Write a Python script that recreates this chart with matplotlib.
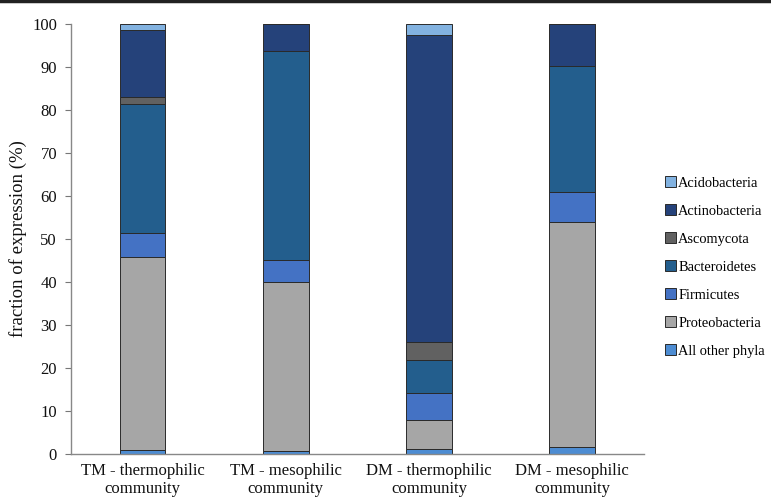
import matplotlib
matplotlib.use("Agg")
import matplotlib.pyplot as plt
import numpy as np

# stacked from the bottom up
categories = ["TM - thermophilic\ncommunity", "TM - mesophilic\ncommunity",
              "DM - thermophilic\ncommunity", "DM - mesophilic\ncommunity"]
phyla = ["All other phyla", "Proteobacteria", "Firmicutes", "Bacteroidetes",
         "Ascomycota", "Actinobacteria", "Acidobacteria"]
other_phyla = [0.9, 0.8, 1.1, 1.7]
proteobacteria = [44.8, 39.3, 6.8, 52.3]
firmicutes = [5.6, 5.0, 6.2, 6.8]
bacteroidetes = [30.0, 48.7, 7.8, 29.4]
ascomycota = [1.6, 0.0, 4.2, 0.0]
actinobacteria = [15.6, 6.2, 71.4, 9.8]
acidobacteria = [1.5, 0.0, 2.5, 0.0]

series = [other_phyla, proteobacteria, firmicutes, bacteroidetes,
          ascomycota, actinobacteria, acidobacteria]
colours = ["#4D8CD2", "#A6A6A6", "#4472C4", "#235E8D",
           "#616161", "#25427A", "#82B2E0"]

serif = "Liberation Serif"

fig = plt.figure(figsize=(7.71, 4.99), dpi=100)
ax = fig.add_axes([0.092, 0.0902, 0.743, 0.862])

x = np.arange(len(categories))
bottom = np.zeros(len(categories))
handles = []
for vals, name, col in zip(series, phyla, colours):
    vals = np.array(vals)
    b = ax.bar(x, vals, width=0.32, bottom=bottom, color=col,
               edgecolor="#2a2a2a", linewidth=0.7, label=name)
    handles.append(b)
    bottom += vals

ax.set_xlim(-0.5, len(categories) - 0.5)
ax.set_ylim(0, 100)
ax.set_yticks(range(0, 101, 10))
ax.set_xticks(x)
ax.set_xticklabels(categories, fontfamily=serif, fontsize=12,
                   color="#111111", linespacing=1.15)
ax.tick_params(axis="x", length=0, pad=6.5)
ax.tick_params(axis="y", length=4, width=0.8, color="#777777", pad=6)
for lab in ax.get_yticklabels():
    lab.set_fontfamily(serif)
    lab.set_fontsize(12)
    lab.set_color("#111111")
ax.set_ylabel("fraction of expression (%)", fontfamily=serif,
              fontsize=13.5, color="#111111", labelpad=4)

for side in ["top", "right"]:
    ax.spines[side].set_visible(False)
for side in ["left", "bottom"]:
    ax.spines[side].set_color("#888888")
    ax.spines[side].set_linewidth(1.0)

leg = fig.legend(handles[::-1], phyla[::-1], loc="center left",
                 bbox_to_anchor=(0.862, 0.465), frameon=False,
                 prop={"family": serif, "size": 10.4},
                 handlelength=0.8, handleheight=0.8, handletextpad=0.15,
                 labelspacing=1.0, borderaxespad=0, borderpad=0)

# dark rule along the top edge
fig.add_artist(plt.Line2D([0, 1], [0.997, 0.997], color="#222222",
                          linewidth=2.5, transform=fig.transFigure))

fig.savefig("out.png", dpi=100)
